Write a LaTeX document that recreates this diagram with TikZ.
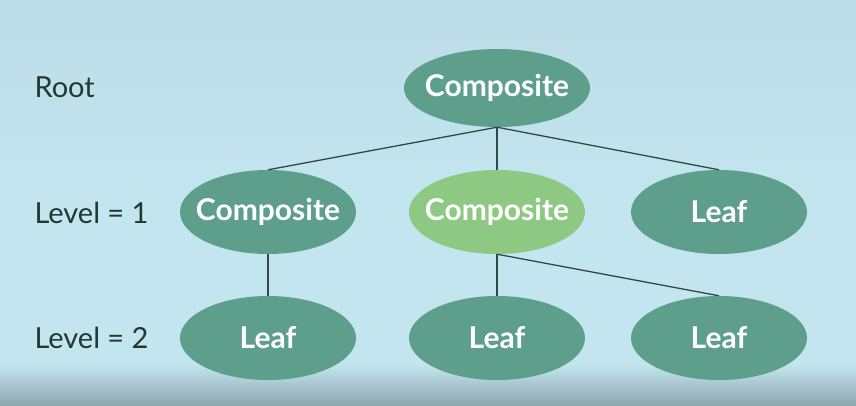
\documentclass[tikz,border=0pt]{standalone}
\usepackage{fontspec}
\setmainfont{Lato}
\usetikzlibrary{shapes.geometric}
\definecolor{bgmid}{HTML}{C3E5F0}
\definecolor{bgtop}{HTML}{BCDDE7}
\definecolor{bgbot}{HTML}{8EA6AE}
\definecolor{dkgreen}{HTML}{5E9F8C}
\definecolor{ltgreen}{HTML}{8DC983}
\definecolor{edgecol}{HTML}{2E4A42}
\definecolor{lvltext}{HTML}{1F3A30}
\newcommand{\zw}[1]{\makebox[0pt]{#1}}
\tikzset{
  blob/.style={ellipse, fill=dkgreen, minimum width=176pt, minimum height=84pt, inner sep=0pt,
    text=white, font=\fontsize{30}{36}\selectfont\bfseries},
  blobhi/.style={blob, fill=ltgreen},
  lvl/.style={anchor=west, text=lvltext, font=\fontsize{29}{34}\selectfont},
  conn/.style={draw=edgecol, line width=1.3pt}
}
\begin{document}
\begin{tikzpicture}[x=1pt,y=-1pt]
\useasboundingbox (0,0) rectangle (856,406);
\shade[top color=bgtop, bottom color=bgmid] (0,0) rectangle (856,200);
\fill[bgmid] (0,199.5) rectangle (856,365);
\shade[top color=bgmid, bottom color=bgbot] (0,364.5) rectangle (856,406);
\node[blob, minimum width=186pt, minimum height=78pt] (root) at (497,88) {\zw{Composite}};
\node[blob] (c1) at (268,212) {\zw{Composite}};
\node[blobhi] (c2) at (497,212) {\zw{Composite}};
\node[blob] (l1) at (719,212) {\zw{Leaf}};
\node[blob] (l2) at (268,338) {\zw{Leaf}};
\node[blob] (l3) at (497,338) {\zw{Leaf}};
\node[blob] (l4) at (719,338) {\zw{Leaf}};
\node[lvl] (troot) at (31,87) {Root};
\node[lvl] (tl1) at (31,213) {Level = 1};
\node[lvl] (tl2) at (31,338) {Level = 2};
\draw[conn] (root.south) -- (c1.north);
\draw[conn] (root.south) -- (c2.north);
\draw[conn] (root.south) -- (l1.north);
\draw[conn] (c1.south) -- (l2.north);
\draw[conn] (c2.south) -- (l3.north);
\draw[conn] (c2.south) -- (l4.north);
\end{tikzpicture}
\end{document}
